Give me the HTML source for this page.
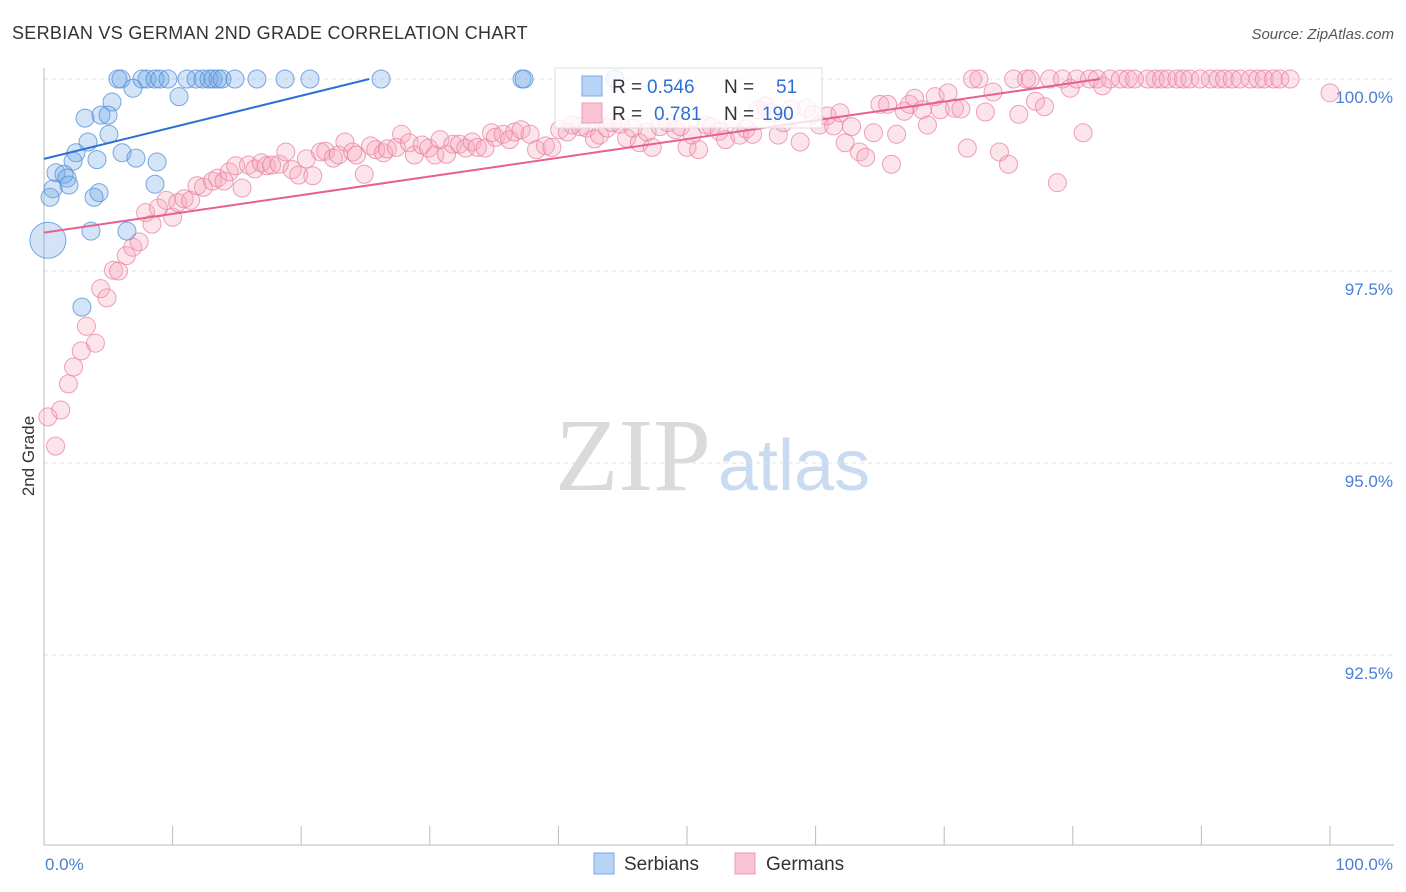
<!DOCTYPE html>
<html><head><meta charset="utf-8"><style>
body{margin:0;background:#fff;font-family:"Liberation Sans",sans-serif;}
#wrap{position:relative;width:1406px;height:892px;overflow:hidden}
</style></head><body>
<div id="wrap">
<svg id="svg" width="1406" height="892"></svg>
</div>
<script>
const serbX=[5.75,5.99,7.62,8.01,8.63,9.02,9.64,11.12,11.82,12.36,12.83,13.14,13.53,13.84,14.85,16.56,18.74,20.68,26.21,37.17,37.33,44.4,6.92,10.5,5.29,3.19,4.43,4.98,5.05,3.42,6.07,7.15,8.79,2.49,2.26,4.12,0.93,1.56,1.79,1.94,8.63,0.7,0.47,4.28,3.89,3.65,6.45,2.95,0.3];
const serbY=[100,100,100,100,100,100,100,100,100,100,100,100,100,100,100,100,100,100,100,100,100,100,99.88,99.77,99.7,99.49,99.53,99.53,99.28,99.18,99.04,98.97,98.92,99.04,98.93,98.95,98.78,98.76,98.71,98.62,98.63,98.57,98.46,98.52,98.46,98.02,98.02,97.03,97.9];
const germX=[0.3,1.3,0.9,1.9,2.3,2.9,3.3,4.0,4.4,4.9,5.4,5.8,6.4,6.9,7.4,7.9,8.4,8.9,9.5,10.0,10.4,10.9,11.4,11.9,12.4,13.1,13.5,14.0,14.4,14.9,15.4,15.9,16.4,16.9,17.3,17.7,18.3,18.8,19.3,19.8,20.4,20.9,21.5,21.9,22.5,22.9,23.4,24.0,24.3,24.9,25.4,25.8,26.4,26.7,27.4,27.8,28.4,28.8,29.4,29.9,30.4,30.8,31.3,31.8,32.3,32.8,33.3,33.7,34.3,34.8,35.1,35.7,36.2,36.6,37.1,37.8,38.3,39.0,39.5,40.1,40.7,41.1,41.7,42.2,42.8,43.2,43.8,44.2,44.8,45.3,45.8,46.3,46.9,47.3,47.9,48.5,49.1,49.5,50.0,50.4,50.9,51.5,51.9,52.5,53.0,53.6,54.1,54.6,55.1,55.5,56.1,56.5,57.1,57.5,58.1,58.8,59.3,59.8,60.3,60.9,61.4,61.9,62.3,62.8,63.4,63.9,64.5,65.0,65.6,65.9,66.3,66.9,67.3,67.7,68.3,68.7,69.3,69.7,70.3,70.8,71.3,71.8,72.2,72.7,73.2,73.8,74.3,75.0,75.4,75.8,76.4,76.7,77.1,77.8,78.2,78.8,79.2,79.8,80.3,80.8,81.3,81.9,82.3,82.9,83.7,84.3,84.8,85.8,86.4,86.9,87.4,88.1,88.6,89.1,89.9,90.7,91.3,91.8,92.4,93.0,93.8,94.4,94.9,95.6,96.1,96.9,100];
const germY=[95.6,95.69,95.22,96.03,96.25,96.46,96.78,96.56,97.27,97.15,97.51,97.5,97.7,97.81,97.88,98.26,98.11,98.32,98.42,98.2,98.39,98.44,98.42,98.61,98.59,98.67,98.71,98.67,98.79,98.87,98.58,98.88,98.83,98.91,98.87,98.88,98.89,99.05,98.82,98.75,98.96,98.74,99.05,99.06,98.97,99.01,99.18,99.05,99.01,98.76,99.13,99.08,99.04,99.09,99.11,99.28,99.17,99.01,99.14,99.1,99.01,99.21,99.02,99.15,99.15,99.1,99.18,99.11,99.1,99.3,99.24,99.28,99.21,99.31,99.34,99.28,99.08,99.13,99.11,99.34,99.31,99.4,99.38,99.36,99.22,99.27,99.36,99.43,99.41,99.23,99.36,99.17,99.31,99.11,99.38,99.43,99.34,99.38,99.11,99.27,99.08,99.4,99.38,99.32,99.21,99.48,99.27,99.35,99.28,99.6,99.65,99.56,99.27,99.43,99.61,99.18,99.62,99.54,99.4,99.52,99.39,99.56,99.17,99.38,99.05,98.98,99.3,99.67,99.67,98.89,99.28,99.58,99.67,99.75,99.6,99.4,99.77,99.6,99.82,99.62,99.61,99.1,100,100,99.57,99.83,99.05,98.89,100,99.54,100,100,99.71,99.64,100,98.65,100,99.88,100,99.3,100,100,99.91,100,100,100,100,100,100,100,100,100,100,100,100,100,100,100,100,100,100,100,100,100,100,100,99.82];
const serbTrend=[[0,98.96],[25.3,100]];
const germTrend=[[0,98.0],[82.1,100]];
const yTicks=[100,97.5,95,92.5];
const yTickLabels=["100.0%","97.5%","95.0%","92.5%"];

const NS="http://www.w3.org/2000/svg";
const svg=document.getElementById('svg');
const X=v=>44+v*12.86;
const Y=v=>79+(100-v)*76.8;
function mk(t,a,p){const e=document.createElementNS(NS,t);for(const k in a)e.setAttribute(k,a[k]);(p||svg).appendChild(e);return e;}
let t=mk('text',{x:12,y:39,'font-size':18,fill:'#333','letter-spacing':'0.3'});t.textContent='SERBIAN VS GERMAN 2ND GRADE CORRELATION CHART';


t=mk('text',{x:1394,y:39,'font-size':15,fill:'#555','text-anchor':'end','font-style':'italic'});t.textContent='Source: ZipAtlas.com';


t=mk('text',{x:555,y:490,'font-size':104,fill:'#dadada','font-family':'Liberation Serif,serif'});t.textContent='ZIP';


t=mk('text',{x:718,y:490,'font-size':72,fill:'#c9dbf1'});t.textContent='atlas';


yTicks.forEach((v,i)=>{
 const g=mk('line',{x1:44,x2:1394,y1:Y(v),y2:Y(v),stroke:'#e0e0e0','stroke-dasharray':'4,4'});
 
 
 const l=mk('text',{x:1393,y:Y(v)+24,'font-size':17,fill:'#4a7fd4','text-anchor':'end'});l.textContent=yTickLabels[i];
 
 
});
let a=mk('line',{x1:44,x2:44,y1:68,y2:845,stroke:'#bbb'});


a=mk('line',{x1:44,x2:1394,y1:845,y2:845,stroke:'#bbb'});


for(let i=0;i<=10;i++){const tk=mk('line',{x1:X(i*10),x2:X(i*10),y1:826,y2:845,stroke:'#bbb'});
 
 }
t=mk('text',{x:45,y:870,'font-size':17,fill:'#4a7fd4'});t.textContent='0.0%';


t=mk('text',{x:1393,y:870,'font-size':17,fill:'#4a7fd4','text-anchor':'end'});t.textContent='100.0%';


t=mk('text',{x:34,y:456,'font-size':17,fill:'#333','text-anchor':'middle',transform:'rotate(-90 34 456)'});t.textContent='2nd Grade';


germX.forEach((x,i)=>{const c=mk('circle',{cx:X(x),cy:Y(germY[i]),r:9,fill:'rgba(246,165,190,0.3)',stroke:'rgba(232,130,160,0.75)','stroke-width':1});
 
 });
serbX.forEach((x,i)=>{const big=i===serbX.length-1;const c=mk('circle',{cx:X(x),cy:Y(serbY[i]),r:big?18:9,fill:'rgba(110,165,230,0.3)',stroke:'rgba(90,145,220,0.8)','stroke-width':1});
 
 });
let ln=mk('line',{x1:X(serbTrend[0][0]),y1:Y(serbTrend[0][1]),x2:X(serbTrend[1][0]),y2:Y(serbTrend[1][1]),stroke:'#2d6fd6','stroke-width':2});


ln=mk('line',{x1:X(germTrend[0][0]),y1:Y(germTrend[0][1]),x2:X(germTrend[1][0]),y2:Y(germTrend[1][1]),stroke:'#e8608e','stroke-width':2});


const lg=mk('g',{});


mk('rect',{x:555,y:68,width:267,height:60,fill:'rgba(255,255,255,0.8)',stroke:'#ddd'},lg);
mk('rect',{x:582,y:76,width:20,height:20,fill:'#b7d3f5',stroke:'#7aa8e3'},lg);
mk('rect',{x:582,y:103,width:20,height:20,fill:'#f9c3d3',stroke:'#ec9ab4'},lg);
function tx(x,y,s,c,p){const e=mk('text',{x:x,y:y,'font-size':19,fill:c},p);e.textContent=s;return e;}
tx(612,93,'R =','#333',lg);tx(647,93,'0.546','#2d6fd6',lg);tx(724,93,'N =','#333',lg);tx(776,93,'51','#2d6fd6',lg);
tx(612,120,'R =','#333',lg);tx(654,120,'0.781','#2d6fd6',lg);tx(724,120,'N =','#333',lg);tx(762,120,'190','#2d6fd6',lg);
const b1=mk('g',{});


mk('rect',{x:594,y:853,width:20,height:21,fill:'#b7d3f5',stroke:'#7aa8e3'},b1);
tx(624,870,'Serbians','#333',b1);
const b2=mk('g',{});


mk('rect',{x:735,y:853,width:20,height:21,fill:'#f9c3d3',stroke:'#ec9ab4'},b2);
tx(766,870,'Germans','#333',b2);
</script>
</body></html>
